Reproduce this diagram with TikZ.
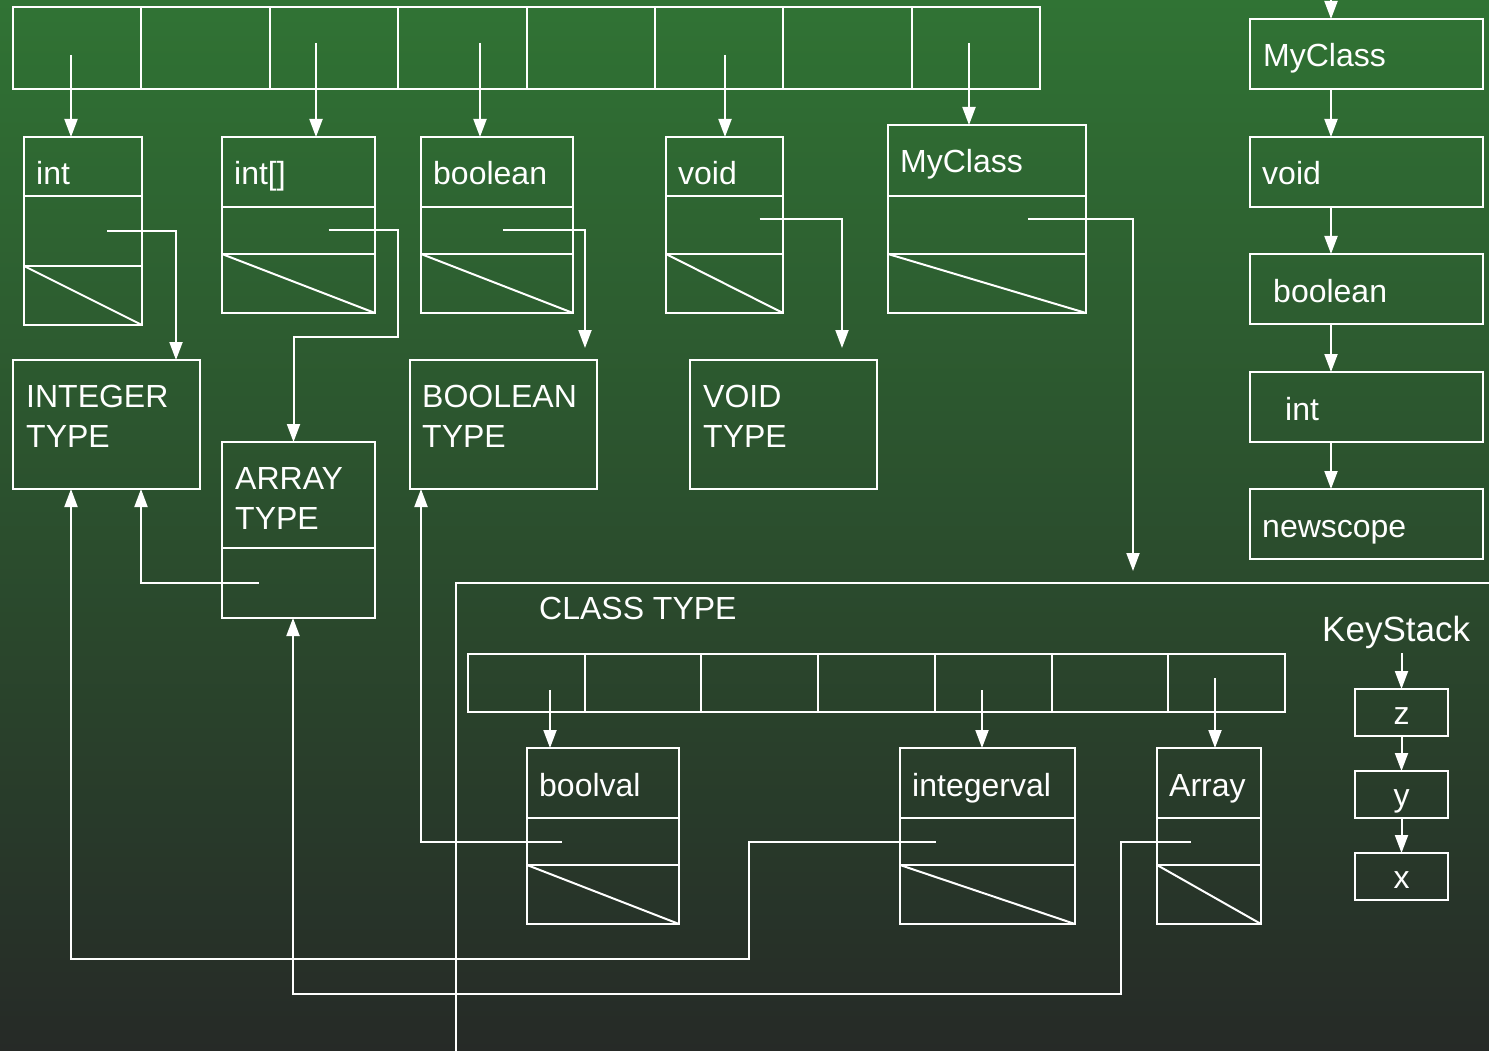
\documentclass[tikz,border=0pt]{standalone}
\usepackage{fontspec}
\setmainfont{Liberation Sans}
\usetikzlibrary{
  arrows.meta,
  calc,
  positioning
}
\definecolor{bgTop}{HTML}{307334}
\definecolor{bgMid}{HTML}{2C5430}
\definecolor{bgLow}{HTML}{262A27}
\tikzset{
  every node/.style={font=\fontsize{32}{40}\selectfont, text=white},
  cell/.style={
    draw=white,
    line width=2pt,
    inner sep=0pt,
    outer sep=0pt,
    anchor=north west
  },
  tag/.style={anchor=base west, inner sep=0pt},
  twotag/.style={anchor=north west, inner sep=0pt, align=left},
  wire/.style={line width=2pt, draw=white},
  link/.style={
    -{Triangle[length=18pt,width=13pt]},
    line width=2pt,
    draw=white
  }
}
% name, x, y, width, label height, pointer height, nil height, label
\newcommand{\symrec}[8]{%
  \node[cell, minimum width=#4pt, minimum height=#5pt] (#1) at (#2,#3) {};
  \node[cell, minimum width=#4pt, minimum height=#6pt] (#1-p) at (#1.south west) {};
  \node[cell, minimum width=#4pt, minimum height=#7pt] (#1-n) at (#1-p.south west) {};
  \draw[wire] (#1-n.north west) -- (#1-n.south east);
  \node[tag] (#1-l) at ([xshift=12pt,yshift=-48pt]#1.north west) {#8};
}

\begin{document}
\begin{tikzpicture}[x=1pt,y=-1pt]
  \useasboundingbox (0,0) rectangle (1489,1051);
  \fill[top color=bgTop, middle color=bgMid, bottom color=bgLow]
    (0,0) rectangle (1489,1051);

  % outer hash table
  \foreach \i in {0,...,7}{
    \node[cell, minimum width=128.375pt, minimum height=82pt] (top\i)
      at ({13+\i*128.375},7) {};
  }

  \symrec{rint}{24}{137}{118}{59}{70}{59}{int}
  \symrec{rarr}{222}{137}{153}{70}{47}{59}{int[]}
  \symrec{rbool}{421}{137}{152}{70}{47}{59}{boolean}
  \symrec{rvoid}{666}{137}{117}{59}{58}{59}{void}
  \symrec{rcls}{888}{125}{198}{71}{58}{59}{MyClass}

  \coordinate (a0) at (71,55);
  \coordinate (a2) at (316,43);
  \coordinate (a3) at (480,43);
  \coordinate (a5) at (725,55);
  \coordinate (a7) at (969,43);
  \draw[link] (a0) -- (a0 |- rint.north);
  \draw[link] (a2) -- (a2 |- rarr.north);
  \draw[link] (a3) -- (a3 |- rbool.north);
  \draw[link] (a5) -- (a5 |- rvoid.north);
  \draw[link] (a7) -- (a7 |- rcls.north);

  % type descriptors
  \node[cell, minimum width=187pt, minimum height=129pt] (tint) at (13,360) {};
  \node[twotag] (tint-l) at ([xshift=13pt,yshift=-25pt]tint.north west) {INTEGER\\TYPE};
  \node[cell, minimum width=153pt, minimum height=106pt] (tarr) at (222,442) {};
  \node[cell, minimum width=153pt, minimum height=70pt] (tarr-p) at (tarr.south west) {};
  \node[twotag] (tarr-l) at ([xshift=13pt,yshift=-25pt]tarr.north west) {ARRAY\\TYPE};
  \node[cell, minimum width=187pt, minimum height=129pt] (tbool) at (410,360) {};
  \node[twotag] (tbool-l) at ([xshift=12pt,yshift=-25pt]tbool.north west) {BOOLEAN\\TYPE};
  \node[cell, minimum width=187pt, minimum height=129pt] (tvoid) at (690,360) {};
  \node[twotag] (tvoid-l) at ([xshift=13pt,yshift=-25pt]tvoid.north west) {VOID\\TYPE};
  \node[cell, minimum width=1100pt, minimum height=520pt] (tcls) at (456,583) {};
  \node[tag] (tcls-l) at ([xshift=83pt,yshift=-36pt]tcls.north west) {CLASS TYPE};

  % class scope table
  \foreach \i in {0,...,6}{
    \node[cell, minimum width=116.714pt, minimum height=58pt] (cl\i)
      at ({468+\i*116.714},654) {};
  }
  \symrec{rbv}{527}{748}{152}{70}{47}{59}{boolval}
  \symrec{riv}{900}{748}{175}{70}{47}{59}{integerval}
  \symrec{rav}{1157}{748}{104}{70}{47}{59}{Array}

  \coordinate (b0) at (550,690);
  \coordinate (b4) at (982,690);
  \coordinate (b6) at (1215,678);
  \draw[link] (b0) -- (b0 |- rbv.north);
  \draw[link] (b4) -- (b4 |- riv.north);
  \draw[link] (b6) -- (b6 |- rav.north);

  % type pointers
  \coordinate (q1) at ([xshift=24pt]rint-p.center);
  \coordinate (q2) at ([xshift=30pt]rarr-p.center);
  \coordinate (q3) at ([xshift=6pt]rbool-p.center);
  \coordinate (q4) at ([xshift=35pt,yshift=6pt]rvoid-p.center);
  \coordinate (q5) at ([xshift=41pt,yshift=6pt]rcls-p.center);
  \coordinate (q6) at ([xshift=-40pt]tarr-p.center);
  \coordinate (q7) at ([xshift=-41pt]rbv-p.center);
  \coordinate (q8) at ([xshift=-52pt]riv-p.center);
  \coordinate (q9) at ([xshift=-18pt]rav-p.center);

  \draw[link] (q1) -| ([xshift=-24pt]tint.north east);
  \draw[link] (q2) -- ++(69,0) -- ++(0,106) -| ([xshift=-5pt]tarr.north);
  \draw[link, shorten >=12pt] (q3) -| ([xshift=-12pt]tbool.north east);
  \draw[link, shorten >=12pt] (q4) -| ([xshift=-35pt]tvoid.north east);
  \draw[link, shorten >=12pt] (q5) -| ([xshift=677pt]tcls.north west);
  \draw[link] (q6) -| ([xshift=128pt]tint.south west);
  \draw[link] (q7) -| ([xshift=11pt]tbool.south west);
  \draw[link] (q8) -| ++(-187,117) -| ([xshift=58pt]tint.south west);
  \draw[link] (q9) -| ++(-70,152) -| ([xshift=71pt]tarr-p.south west);

  % scope stack
  \foreach \i/\y/\dx/\lab in {1/19/13/MyClass, 2/137/12/void, 3/254/23/boolean,
                               4/372/35/int, 5/489/12/newscope}{
    \node[cell, minimum width=233pt, minimum height=70pt] (s\i) at (1250,\y) {};
    \node[tag] (s\i-l) at ([xshift=\dx pt,yshift=-48pt]s\i.north west) {\lab};
  }
  \coordinate (sin) at (1331,-40);
  \draw[link] (sin) -- ([xshift=81pt]s1.north west);
  \foreach \i/\j in {1/2,2/3,3/4,4/5}{
    \draw[link] ([xshift=81pt]s\i.south west) -- ([xshift=81pt]s\j.north west);
  }

  % key stack
  \node[tag, font=\fontsize{35}{40}\selectfont] (ks) at (1322,641) {KeyStack};
  \foreach \k/\y in {z/689, y/771, x/853}{
    \node[cell, minimum width=93pt, minimum height=47pt, text depth=0pt,
          text height=23pt] (k\k) at (1355,\y) {\k};
  }
  \draw[link] ([yshift=-5pt]ks.south -| kz.north) -- (kz.north);
  \draw[link] (kz) -- (ky);
  \draw[link] (ky) -- (kx);
\end{tikzpicture}
\end{document}
